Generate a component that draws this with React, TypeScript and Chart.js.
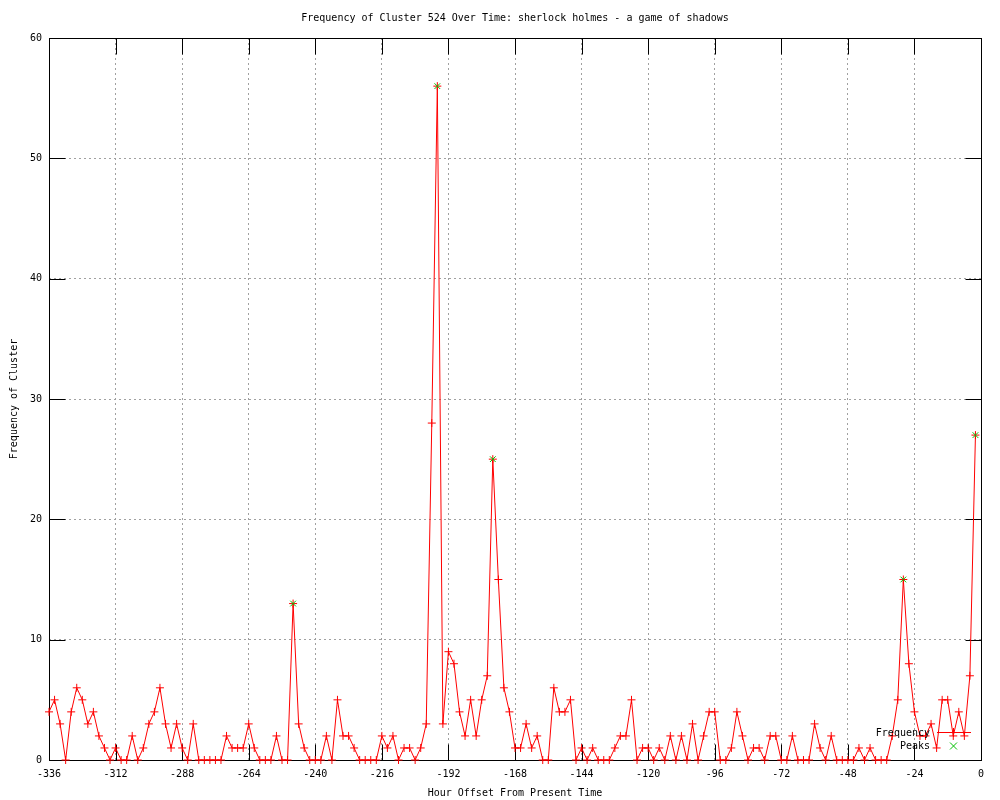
import React, { useEffect, useRef } from "react";
import { Chart, registerables } from "chart.js";

Chart.register(...registerables);

const FONT_FAMILY = '"DejaVu Sans Mono", "Liberation Mono", monospace';
const TITLE = "Frequency of Cluster 524 Over Time: sherlock holmes - a game of shadows";
const X_TITLE = "Hour Offset From Present Time";
const Y_TITLE = "Frequency of Cluster";
const LEGEND_FREQ = "Frequency";
const LEGEND_PEAKS = "Peaks";

const X_TICKS = [-336, -312, -288, -264, -240, -216, -192, -168, -144, -120, -96, -72, -48, -24, 0];
const Y_TICKS = [0, 10, 20, 30, 40, 50, 60];

const HOURS = [
  -336, -334, -332, -330, -328, -326, -324, -322, -320, -318, -316, -314,
  -312, -310, -308, -306, -304, -302, -300, -298, -296, -294, -292, -290,
  -288, -286, -284, -282, -280, -278, -276, -274, -272, -270, -268, -266,
  -264, -262, -260, -258, -256, -254, -252, -250, -248, -246, -244, -242,
  -240, -238, -236, -234, -232, -230, -228, -226, -224, -222, -220, -218,
  -216, -214, -212, -210, -208, -206, -204, -202, -200, -198, -196, -194,
  -192, -190, -188, -186, -184, -182, -180, -178, -176, -174, -172, -170,
  -168, -166, -164, -162, -160, -158, -156, -154, -152, -150, -148, -146,
  -144, -142, -140, -138, -136, -134, -132, -130, -128, -126, -124, -122,
  -120, -118, -116, -114, -112, -110, -108, -106, -104, -102, -100, -98,
  -96, -94, -92, -90, -88, -86, -84, -82, -80, -78, -76, -74,
  -72, -70, -68, -66, -64, -62, -60, -58, -56, -54, -52, -50,
  -48, -46, -44, -42, -40, -38, -36, -34, -32, -30, -28, -26,
  -24, -22, -20, -18, -16, -14, -12, -10, -8, -6, -4, -2,
];

const FREQUENCY = [
  4, 5, 3, 0, 4, 6, 5, 3, 4, 2, 1, 0,
  1, 0, 0, 2, 0, 1, 3, 4, 6, 3, 1, 3,
  1, 0, 3, 0, 0, 0, 0, 0, 2, 1, 1, 1,
  3, 1, 0, 0, 0, 2, 0, 0, 13, 3, 1, 0,
  0, 0, 2, 0, 5, 2, 2, 1, 0, 0, 0, 0,
  2, 1, 2, 0, 1, 1, 0, 1, 3, 28, 56, 3,
  9, 8, 4, 2, 5, 2, 5, 7, 25, 15, 6, 4,
  1, 1, 3, 1, 2, 0, 0, 6, 4, 4, 5, 0,
  1, 0, 1, 0, 0, 0, 1, 2, 2, 5, 0, 1,
  1, 0, 1, 0, 2, 0, 2, 0, 3, 0, 2, 4,
  4, 0, 0, 1, 4, 2, 0, 1, 1, 0, 2, 2,
  0, 0, 2, 0, 0, 0, 3, 1, 0, 2, 0, 0,
  0, 0, 1, 0, 1, 0, 0, 0, 2, 5, 15, 8,
  4, 2, 2, 3, 1, 5, 5, 2, 4, 2, 7, 27,
];

const PEAK_HOURS = [-248, -196, -176, -28, -2];
const PEAK_VALUES = [13, 56, 25, 15, 27];

const RED = "#ff0000";
const GREEN = "#00c000";

const font = { family: FONT_FAMILY, size: 10 };

const framePlugin = {
  id: "gnuFrame",
  beforeDatasetsDraw(chart: any) {
    const { ctx, chartArea: a, scales } = chart;
    const L = Math.round(a.left) + 0.5;
    const R = Math.round(a.right) + 0.5;
    const T = Math.round(a.top) + 0.5;
    const B = Math.round(a.bottom) + 0.5;
    ctx.save();
    ctx.strokeStyle = "#000";
    ctx.lineWidth = 1;
    ctx.beginPath();
    const tl = 16;
    X_TICKS.forEach((v) => {
      if (v === X_TICKS[0] || v === X_TICKS[X_TICKS.length - 1]) return;
      const px = Math.round(scales.x.getPixelForValue(v)) + 0.5;
      ctx.moveTo(px, B);
      ctx.lineTo(px, B - tl);
      ctx.moveTo(px, T);
      ctx.lineTo(px, T + tl);
    });
    Y_TICKS.forEach((v) => {
      if (v === Y_TICKS[0] || v === Y_TICKS[Y_TICKS.length - 1]) return;
      const py = Math.round(scales.y.getPixelForValue(v)) + 0.5;
      ctx.moveTo(L, py);
      ctx.lineTo(L + tl, py);
      ctx.moveTo(R, py);
      ctx.lineTo(R - tl, py);
    });
    ctx.stroke();
    ctx.strokeRect(L, T, R - L, B - T);
    ctx.restore();
  },
  afterDraw(chart: any) {
    const { ctx, chartArea: a } = chart;
    ctx.save();
    ctx.fillStyle = "#000";
    ctx.font = `10px ${FONT_FAMILY}`;
    ctx.textBaseline = "middle";
    ctx.textAlign = "center";
    ctx.fillText(TITLE, (a.left + a.right) / 2, 18);

    // legend
    ctx.textAlign = "right";
    ctx.fillText(LEGEND_FREQ, 930, 733);
    ctx.fillText(LEGEND_PEAKS, 930, 746);
    ctx.lineWidth = 1;
    ctx.strokeStyle = RED;
    ctx.beginPath();
    ctx.moveTo(937, 732.5);
    ctx.lineTo(971, 732.5);
    ctx.moveTo(953.5, 728);
    ctx.lineTo(953.5, 737);
    ctx.stroke();
    ctx.strokeStyle = GREEN;
    ctx.beginPath();
    ctx.moveTo(950, 742.5);
    ctx.lineTo(957, 749.5);
    ctx.moveTo(957, 742.5);
    ctx.lineTo(950, 749.5);
    ctx.stroke();
    ctx.restore();
  },
};

export default function App() {
  const ref = useRef<HTMLCanvasElement>(null);

  useEffect(() => {
    document.body.style.margin = "0";
    const canvas = ref.current;
    if (!canvas) return;
    const chart = new Chart(canvas, {
      type: "line",
      data: {
        datasets: [
          {
            label: LEGEND_PEAKS,
            data: PEAK_HOURS.map((h, i) => ({ x: h, y: PEAK_VALUES[i] })),
            showLine: false,
            pointStyle: "crossRot",
            pointRadius: 4,
            pointHoverRadius: 4,
            pointBorderWidth: 1,
            borderColor: GREEN,
            backgroundColor: GREEN,
            clip: false as any,
            order: 0,
          },
          {
            label: LEGEND_FREQ,
            data: HOURS.map((h, i) => ({ x: h, y: FREQUENCY[i] })),
            borderColor: RED,
            backgroundColor: RED,
            borderWidth: 1,
            tension: 0,
            pointStyle: "cross",
            pointRadius: 4,
            pointHoverRadius: 4,
            pointBorderWidth: 1,
            pointBorderColor: RED,
            clip: false as any,
            order: 1,
          },
        ],
      },
      options: {
        responsive: false,
        animation: false,
        events: [],
        layout: { padding: { left: 0, right: 19, top: 38, bottom: 0 } },
        plugins: {
          legend: { display: false },
          tooltip: { enabled: false },
          title: { display: false },
        },
        scales: {
          x: {
            type: "linear",
            min: -336,
            max: 0,
            afterBuildTicks: (s: any) => {
              s.ticks = X_TICKS.map((v) => ({ value: v }));
            },
            afterFit: (s: any) => {
              s.height = 40;
            },
            ticks: {
              autoSkip: false,
              maxRotation: 0,
              font,
              color: "#000",
              padding: 8,
              callback: (v: any) => String(v),
            },
            grid: { color: "#a0a0a0", lineWidth: 1, drawTicks: false },
            border: { display: false, dash: [2, 3] },
            title: {
              display: true,
              text: X_TITLE,
              font,
              color: "#000",
              padding: { top: 0, bottom: 1 },
            },
          },
          y: {
            type: "linear",
            min: 0,
            max: 60,
            afterBuildTicks: (s: any) => {
              s.ticks = Y_TICKS.map((v) => ({ value: v }));
            },
            afterFit: (s: any) => {
              s.width = 49;
            },
            ticks: {
              font,
              color: "#000",
              padding: 7,
              callback: (v: any) => String(v),
            },
            grid: { color: "#a0a0a0", lineWidth: 1, drawTicks: false },
            border: { display: false, dash: [2, 3] },
            title: {
              display: true,
              text: Y_TITLE,
              font,
              color: "#000",
              padding: { top: 8, bottom: 0 },
            },
          },
        },
      },
      plugins: [framePlugin],
    } as any);
    return () => chart.destroy();
  }, []);

  return (
    <canvas
      ref={ref}
      width={1000}
      height={800}
      style={{ display: "block", width: 1000, height: 800 }}
    />
  );
}
